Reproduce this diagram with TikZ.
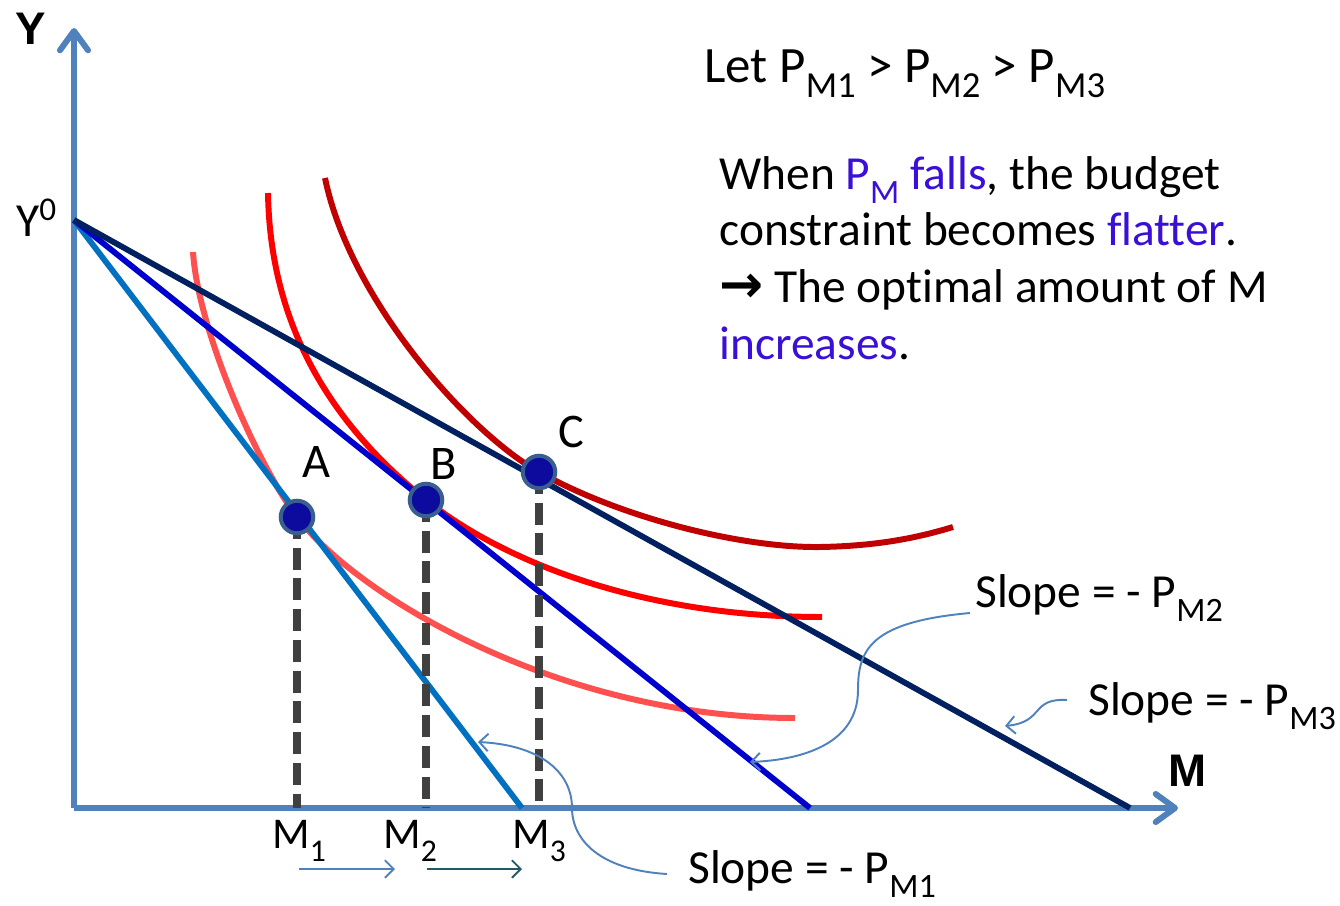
\documentclass[tikz,border=0pt]{standalone}
\usepackage{fontspec}
\setmainfont{Carlito}[Ligatures=NoCommon]
\newfontfamily\arialfont{Liberation Sans}
\newfontfamily\djvfont{DejaVu Sans}
\usetikzlibrary{arrows.meta}
\definecolor{axisc}{HTML}{4F81BD}
\definecolor{bl1}{HTML}{0070C0}
\definecolor{bl2}{HTML}{0000CC}
\definecolor{bl3}{HTML}{002060}
\definecolor{ic1}{HTML}{FF5050}
\definecolor{ic2}{HTML}{FF0000}
\definecolor{ic3}{HTML}{C00000}
\definecolor{ptfill}{HTML}{0D0A9E}
\definecolor{ptborder}{HTML}{3A5F8F}
\definecolor{dashc}{HTML}{404040}
\definecolor{hl}{HTML}{3A0FD6}
\definecolor{tealc}{HTML}{215968}
\newcommand\lsub[1]{\raisebox{-0.3em}{\scalebox{0.72}{#1}}}
\newcommand\lsup[1]{\raisebox{0.33em}{\scalebox{0.7}{#1}}}
\begin{document}
\begin{tikzpicture}[x=0.02cm,y=-0.02cm,
  axis/.style={draw=axisc,line width=3.4pt,-{Straight Barb[length=11pt,width=16pt,round]}},
  budget/.style={line width=3.3pt},
  icurve/.style={line width=3.4pt},
  drop/.style={draw=dashc,line width=4pt,dash pattern=on 12.5pt off 5pt},
  pt/.style={circle,fill=ptfill,draw=ptborder,line width=2.3pt,minimum size=18.5pt,inner sep=0pt},
  annot/.style={draw=axisc,line width=1.1pt,-{Straight Barb[length=5pt,width=10pt]}},
  txt/.style={inner sep=0pt,anchor=base west,font=\fontsize{27}{32}\selectfont},
  lbl/.style={inner sep=0pt,font=\fontsize{27.5}{32}\selectfont},
  axlbl/.style={inner sep=0pt,anchor=base west,font=\fontsize{26}{30}\selectfont\arialfont\bfseries}]
\useasboundingbox (0,0) rectangle (1340,906);

% coordinates
\coordinate (O) at (74,808);
\coordinate (Ytip) at (74,28);
\coordinate (Mtip) at (1178,808);
\coordinate (Y0) at (74,220);
\coordinate (E1) at (522,808);
\coordinate (E2) at (810,808);
\coordinate (E3) at (1130,808);
\coordinate (pA) at (297,517);
\coordinate (pB) at (426,500);
\coordinate (pC) at (539,472);

% axes
\draw[axis] (O) -- (Ytip);
\draw[axis] (O) -- (Mtip);

% indifference curves
\draw[icurve,draw=ic1] (193,252) .. controls (198,330) and (257,464) .. (pA)
  .. controls (357,596) and (560,718) .. (795,718);
\draw[icurve,draw=ic2] (268,193) .. controls (270,320) and (326,420) .. (pB)
  .. controls (501,560) and (640,617) .. (822,617);
\draw[icurve,draw=ic3] (325,178) .. controls (350,300) and (469,433) .. (pC)
  .. controls (619,517) and (740,548) .. (820,547)
  .. controls (880,546) and (920,537) .. (953,527);

% budget lines
\draw[budget,draw=bl1] (Y0) -- (E1);
\draw[budget,draw=bl2] (Y0) -- (E2);
\draw[budget,draw=bl3] (Y0) -- (E3);

% drop lines
\draw[drop] (pA) -- (pA |- O);
\draw[drop] (pB) -- (pB |- O);
\draw[drop] (pC) -- (pC |- O);

% points
\node[pt] (A) at (pA) {};
\node[pt] (B) at (pB) {};
\node[pt] (C) at (pC) {};
\node[lbl] (lA) at (316,462) {A};
\node[lbl] (lB) at (444,464) {B};
\node[lbl] (lC) at (571,432) {C};

% axis labels
\node[axlbl] (Ylab) at (15,45) {Y};
\node[axlbl] (Mlab) at (1168,786) {M};
\node[txt] (Y0lab) at (16,236) {Y\lsup{0}};
\node[txt,font=\fontsize{25}{30}\selectfont] (M1) at (272,848) {M\lsub{1}};
\node[txt,font=\fontsize{25}{30}\selectfont] (M2) at (383,848) {M\lsub{2}};
\node[txt,font=\fontsize{25}{30}\selectfont] (M3) at (512,848) {M\lsub{3}};

% small arrows below axis
\coordinate (a1s) at (299,869);
\coordinate (a1e) at (395,869);
\coordinate (a2s) at (427,869);
\coordinate (a2e) at (522,869);
\draw[annot] (a1s) -- (a1e);
\draw[annot,draw=tealc] (a2s) -- (a2e);

% headline texts
\node[txt,font=\fontsize{29}{34}\selectfont] (let) at (704,82)
  {Let P\lsub{M1} > P\lsub{M2} > P\lsub{M3}};
\node[txt] (t1) at (719,189) {When \textcolor{hl}{P\lsub{M} falls}, the budget};
\node[txt] (t2) at (719,245) {constraint becomes \textcolor{hl}{flatter}.};
\node[txt] (t3) at (719,302) {{\djvfont\bfseries\fontsize{30}{32}\selectfont →} The optimal amount of M};
\node[txt] (t4) at (719,359) {\textcolor{hl}{increases}.};

% slope labels
\node[txt] (s2) at (975,607) {Slope = - P\lsub{M2}};
\node[txt] (s3) at (1088,715) {Slope = - P\lsub{M3}};
\node[txt] (s1) at (688,883) {Slope = - P\lsub{M1}};

% slope annotation curves
\coordinate (c2s) at (970,613);
\coordinate (c2e) at (750,762);
\draw[annot] (c2s) .. controls (870,622) and (858,650) .. (858,690)
  .. controls (858,745) and (800,760) .. (c2e);
\coordinate (c1s) at (667,874);
\coordinate (c1e) at (478,742);
\draw[annot] (c1s) .. controls (600,870) and (572,840) .. (572,808)
  .. controls (572,772) and (540,745) .. (c1e);
\coordinate (c3s) at (1067,700);
\coordinate (c3e) at (1005,726);
\draw[annot] (c3s) .. controls (1030,698) and (1045,722) .. (c3e);
\end{tikzpicture}
\end{document}
